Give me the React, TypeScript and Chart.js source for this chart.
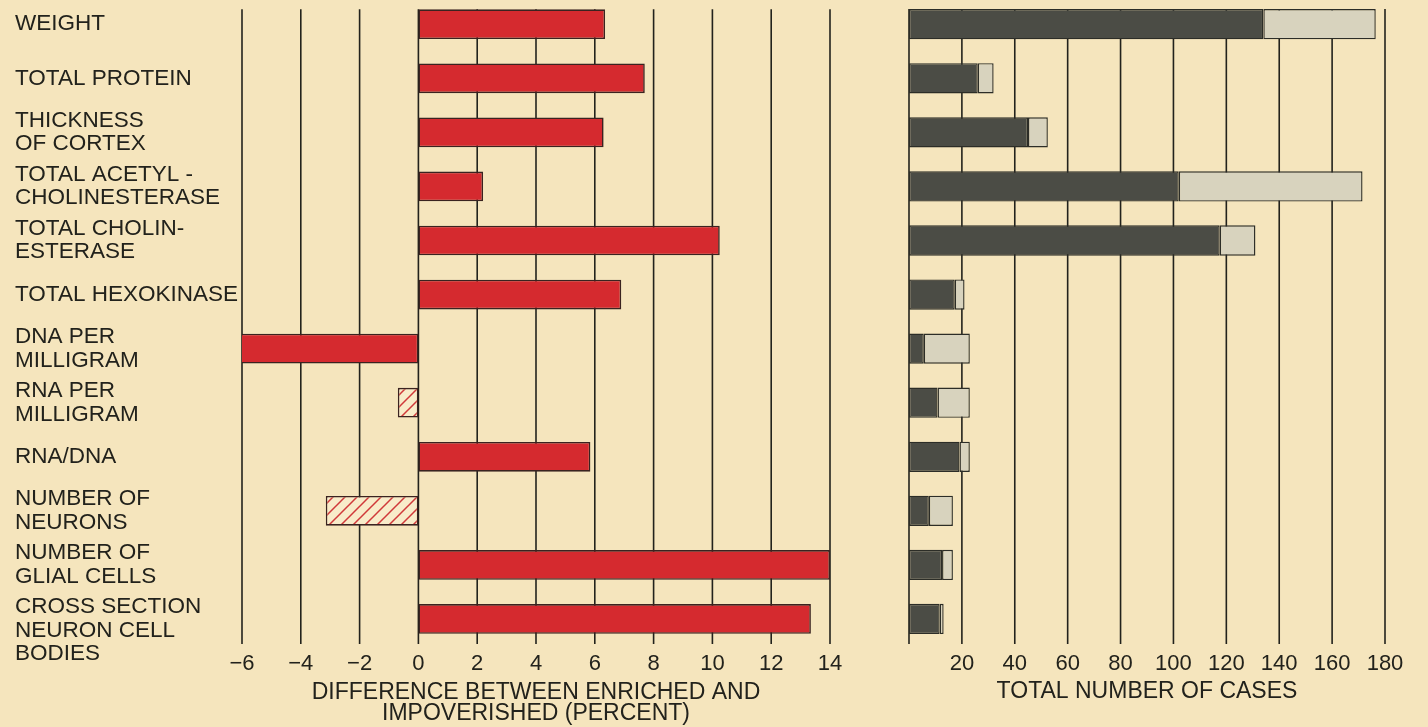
import React, { useEffect, useRef } from 'react';
import { Chart, registerables } from 'chart.js';

Chart.register(...registerables);

// ---------- data ----------
const categories: string[][] = [
  ['WEIGHT'],
  ['TOTAL PROTEIN'],
  ['THICKNESS', 'OF CORTEX'],
  ['TOTAL ACETYL -', 'CHOLINESTERASE'],
  ['TOTAL CHOLIN-', 'ESTERASE'],
  ['TOTAL HEXOKINASE'],
  ['DNA PER', 'MILLIGRAM'],
  ['RNA PER', 'MILLIGRAM'],
  ['RNA/DNA'],
  ['NUMBER OF', 'NEURONS'],
  ['NUMBER OF', 'GLIAL CELLS'],
  ['', 'CROSS SECTION', 'NEURON CELL', 'BODIES'],
];

const differencePercent = [6.35, 7.7, 6.3, 2.2, 10.25, 6.9, -6.2, -0.7, 5.85, -3.15, 14.0, 13.35];
const hatched = [false, false, false, false, false, false, false, true, false, true, false, false];

const casesDark = [134, 26, 45, 102, 117.5, 17.3, 5.6, 10.8, 19.1, 7.5, 12.5, 11.6];
const casesLight = [42.5, 6, 7.5, 69.5, 13.5, 3.7, 17.4, 12.2, 3.9, 9.1, 4.1, 1.5];

const leftAxisRange = { min: -6, max: 14, step: 2 };
const rightAxisRange = { min: 0, max: 180, step: 20 };
const leftTitle = ['DIFFERENCE BETWEEN ENRICHED AND', 'IMPOVERISHED (PERCENT)'];
const rightTitle = 'TOTAL NUMBER OF CASES';

// ---------- style ----------
const BG = '#f5e5bd';
const INK = '#22221c';
const RED = '#d52a2f';
const DARK = '#4b4c45';
const LIGHT = '#d8d3be';
const FONT = "'Liberation Sans', Arial, Helvetica, sans-serif";

function makeHatch(): CanvasPattern | string {
  const c = document.createElement('canvas');
  c.width = 12;
  c.height = 12;
  const g = c.getContext('2d');
  if (!g) return BG;
  g.fillStyle = '#f8ebc9';
  g.fillRect(0, 0, 12, 12);
  g.strokeStyle = '#d0393a';
  g.lineWidth = 1.5;
  g.beginPath();
  g.moveTo(-2, 14);
  g.lineTo(14, -2);
  g.moveTo(-8, 8);
  g.lineTo(8, -8);
  g.moveTo(4, 20);
  g.lineTo(20, 4);
  g.stroke();
  const p = g.createPattern(c, 'repeat');
  return p || BG;
}

const gridPlugin = {
  id: 'manualGrid',
  beforeDatasetsDraw(chart: any) {
    const { ctx, chartArea } = chart;
    const xs = chart.scales.x;
    const el = chart.getDatasetMeta(0).data[0] as any;
    const top = el.y - el.height / 2;
    ctx.save();
    ctx.strokeStyle = INK;
    ctx.lineWidth = 1.6;
    xs.ticks.forEach((t: any) => {
      const px = xs.getPixelForValue(t.value);
      ctx.beginPath();
      ctx.moveTo(px, top);
      ctx.lineTo(px, chartArea.bottom - 2);
      ctx.stroke();
    });
    ctx.restore();
  },
};

const CANVAS_H = 740;
const TOP_PAD = 7.2;
const X_AXIS_H = 84;

export default function App() {
  const leftRef = useRef<HTMLCanvasElement>(null);
  const rightRef = useRef<HTMLCanvasElement>(null);

  useEffect(() => {
    document.body.style.margin = '0';
    Chart.defaults.font.family = FONT;
    Chart.defaults.color = INK;
    const hatch = makeHatch();

    const left = new Chart(leftRef.current as HTMLCanvasElement, {
      type: 'bar',
      data: {
        labels: categories,
        datasets: [
          {
            data: differencePercent,
            backgroundColor: differencePercent.map((_, i) => (hatched[i] ? hatch : RED)) as any,
            borderColor: '#3a2320',
            borderWidth: 1.6,
            borderSkipped: false,
            barPercentage: 0.55,
            categoryPercentage: 1,
          },
        ],
      },
      options: {
        indexAxis: 'y',
        responsive: false,
        animation: false,
        devicePixelRatio: 1,
        layout: { padding: { left: 15, right: 50, top: TOP_PAD, bottom: 0 } },
        plugins: { legend: { display: false }, tooltip: { enabled: false } },
        scales: {
          x: {
            type: 'linear',
            min: leftAxisRange.min,
            max: leftAxisRange.max,
            grid: { display: false, drawTicks: false },
            border: { display: false },
            ticks: {
              stepSize: leftAxisRange.step,
              padding: 5,
              font: { size: 22 },
              color: INK,
              callback: (v: any) => (Number(v) < 0 ? '\u2212' + Math.abs(Number(v)) : String(v)),
            },
            title: {
              display: true,
              text: leftTitle,
              color: INK,
              font: { size: 23, lineHeight: 0.92 },
              padding: { top: 0, bottom: 6 },
            },
            afterFit: (s: any) => {
              s.height = X_AXIS_H;
              s.paddingLeft = 0;
              s.paddingRight = 0;
            },
          },
          y: {
            type: 'category',
            grid: { display: false, drawTicks: false },
            border: { display: false },
            ticks: {
              autoSkip: false,
              crossAlign: 'far',
              padding: 0,
              color: INK,
              font: { size: 22.5, lineHeight: 1.04 },
            },
            afterFit: (s: any) => {
              s.width = 227;
              s.paddingTop = 0;
              s.paddingBottom = 0;
            },
          },
        },
      },
      plugins: [gridPlugin],
    } as any);

    const right = new Chart(rightRef.current as HTMLCanvasElement, {
      type: 'bar',
      data: {
        labels: categories,
        datasets: [
          {
            data: casesDark,
            backgroundColor: DARK,
            borderColor: '#2c2d27',
            borderWidth: 1.4,
            borderSkipped: false,
            barPercentage: 0.56,
            categoryPercentage: 1,
          },
          {
            data: casesLight,
            backgroundColor: LIGHT,
            borderColor: '#2c2d27',
            borderWidth: 1.4,
            borderSkipped: false,
            barPercentage: 0.56,
            categoryPercentage: 1,
          },
        ],
      },
      options: {
        indexAxis: 'y',
        responsive: false,
        animation: false,
        devicePixelRatio: 1,
        layout: { padding: { left: 29, right: 43, top: TOP_PAD, bottom: 0 } },
        plugins: { legend: { display: false }, tooltip: { enabled: false } },
        scales: {
          x: {
            type: 'linear',
            stacked: true,
            min: rightAxisRange.min,
            max: rightAxisRange.max,
            grid: { display: false, drawTicks: false },
            border: { display: false },
            ticks: {
              stepSize: rightAxisRange.step,
              padding: 5,
              font: { size: 22 },
              color: INK,
              callback: (v: any) => (Number(v) === 0 ? '' : String(v)),
            },
            title: {
              display: true,
              text: rightTitle,
              color: INK,
              font: { size: 23, lineHeight: 0.92 },
              padding: { top: 0, bottom: 27.5 },
            },
            afterFit: (s: any) => {
              s.height = X_AXIS_H;
              s.paddingLeft = 0;
              s.paddingRight = 0;
            },
          },
          y: {
            type: 'category',
            stacked: true,
            display: false,
            afterFit: (s: any) => {
              s.width = 0;
            },
          },
        },
      },
      plugins: [gridPlugin],
    } as any);

    return () => {
      left.destroy();
      right.destroy();
    };
  }, []);

  return (
    <div
      style={{
        position: 'fixed',
        left: 0,
        top: 0,
        width: 1428,
        height: 727,
        overflow: 'hidden',
        background: BG,
      }}
    >
      <canvas
        ref={leftRef}
        width={880}
        height={CANVAS_H}
        style={{ position: 'absolute', left: 0, top: -10, width: 880, height: CANVAS_H }}
      />
      <canvas
        ref={rightRef}
        width={548}
        height={CANVAS_H}
        style={{ position: 'absolute', left: 880, top: -10, width: 548, height: CANVAS_H }}
      />
    </div>
  );
}
